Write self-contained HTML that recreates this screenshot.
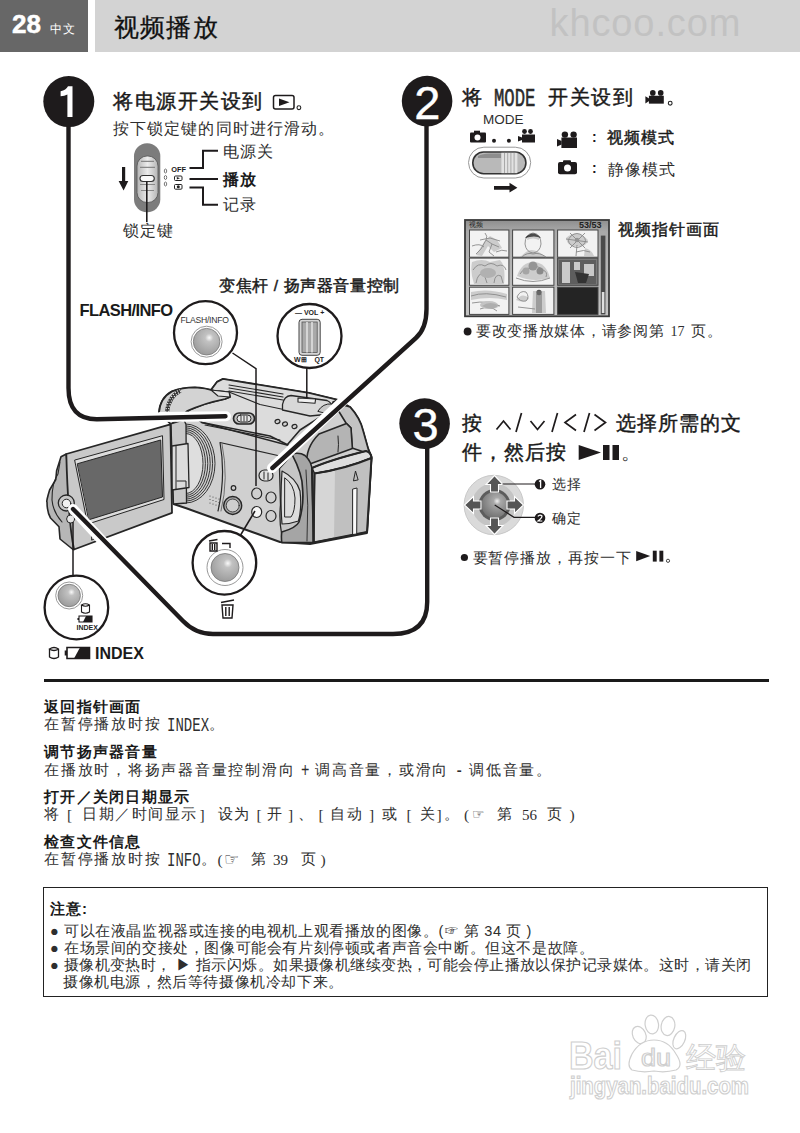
<!DOCTYPE html>
<html><head><meta charset="utf-8">
<style>
html,body{margin:0;padding:0;background:#fff;}
body{width:800px;height:1133px;position:relative;overflow:hidden;font-family:"Liberation Sans",sans-serif;color:#2e2e2e;}
.t{position:absolute;white-space:nowrap;line-height:1;}
.b{font-weight:bold;color:#1a1a1a;}
.m{font-weight:normal;color:#1a1a1a;-webkit-text-stroke:0.45px #1a1a1a;}
.mo{font-family:"Liberation Mono",monospace;letter-spacing:0;font-size:14px;display:inline-block;transform:translateY(1.5px) scaleY(1.38);transform-origin:50% 76%;}
svg{position:absolute;left:0;top:0;}
</style></head><body>
<div style="position:absolute;left:0;top:0;width:88px;height:51.5px;background:#676767"></div>
<div style="position:absolute;left:94.5px;top:0;width:705.5px;height:51.5px;background:#d3d3d3"></div>
<div style="position:absolute;left:44px;top:679px;width:725px;height:3px;background:#1a1a1a"></div>
<div style="position:absolute;left:43px;top:887px;width:724.5px;height:110px;border:1.5px solid #222;box-sizing:border-box"></div>
<svg width="800" height="1133" viewBox="0 0 800 1133">
 <g stroke="#262626" stroke-width="1.6" stroke-linejoin="round" stroke-linecap="round">
  <!-- overall body silhouette -->
  <path fill="#d0d0d0" stroke-width="2" d="M159 413 Q160 398 172 391.5 Q182 387.5 195 387.5 Q205 388 211 390 L217 382 L223 379 L260 385 L309 393 L338 400 L350 407 Q360 418 363 430.6 L368 448.4 L371.5 457 L367 533 L310 544 L280 542 L187 508.5 L173.5 504 L171 424 Z"/>
  <!-- right back part -->
  <path fill="#c3c3c3" d="M333 402 L350 407 Q360 418 363 430.6 L368 448.4 L370 454 L352 448 L351 428 L346 423 Z"/>
  <path fill="#b4b4b4" d="M319 434 L346.5 423.5 L351 428 L352.4 448.4 L307 465 Q305 448 319 434 Z"/>
  <path fill="none" stroke-width="1" d="M338 436 Q339 445 338 452"/>
  <!-- top housing surface -->
  <path fill="#dcdcdc" d="M211 390 L217 382 L223 379 L260 385 L309 393 L338 400 L333 402 Q332 410 325 414 L300 430 L287 445 L202 422.5 L187 411 L205 404 L225 399 L230 397 L229 392 L215 391 Z"/>
  <path fill="none" stroke-width="1.2" d="M229 385 L283 394 M229 388 L283 397 M229 391 L283 400"/>
  <path fill="none" stroke-width="1.2" d="M229 392 L260 404.5 L309.5 415"/>
  <!-- zoom lever bump -->
  <path fill="#d8d8d8" stroke-width="1.3" d="M282.5 404.5 Q284 396 291 395.5 L327 400.5 Q336 405 330 414 L310 416 L282.5 410 Z"/>
  <path fill="#c8c8c8" stroke-width="1" d="M318 411 Q323 403 332 404 Q334 411 329 414 Z"/>
  <path fill="#f0f0f0" stroke-width="1.1" d="M298 398 L315.6 399 L315 403.3 L298 402 Z"/>
  <!-- lens hood -->
  <path fill="#d3d3d3" d="M159 413 Q160 398 172 391.5 Q182 387.5 195 387.5 Q205 388 215 391 L229 392 L230 397 L225 399 Q205 403 187 411 L176 421 L171 424 Z"/>
  <path fill="#e4e4e4" stroke-width="1.1" d="M211 390 L229 392 L230 397 L218 396 Z"/>
  <path fill="none" stroke="#333" stroke-width="4.2" stroke-linecap="butt" d="M167 412 Q168.5 397 180.5 390.5"/>
  <path fill="none" stroke="#eee" stroke-width="1.2" stroke-dasharray="1.2 1.5" stroke-linecap="butt" d="M165.8 412 Q167.3 396.5 179.8 389.6"/>
  <path fill="none" stroke="#eee" stroke-width="1.2" stroke-dasharray="1.2 1.5" stroke-linecap="butt" d="M168.2 412 Q169.7 397.5 181.2 391.4"/>
  <!-- side panel top edge -->
  <path fill="none" stroke-width="1.6" d="M202 422.5 L270 436 L288 445"/>
  <path fill="none" stroke-width="1.2" d="M205 425 L280 440"/>
  <!-- speaker arcs -->
  <path fill="#dedede" stroke="none" d="M186 433.5 A17 30 0 0 1 186 493.5 Z"/>
  <g fill="none" stroke="#2e2e2e" stroke-width="0.95">
   <path d="M186 424.0 A29.0 39.5 0 0 1 186 503.0"/>
   <path d="M186 425.9 A26.6 37.6 0 0 1 186 501.1"/>
   <path d="M186 427.8 A24.2 35.7 0 0 1 186 499.2"/>
   <path d="M186 429.7 A21.8 33.8 0 0 1 186 497.3"/>
   <path d="M186 431.6 A19.4 31.9 0 0 1 186 495.4"/>
   <path d="M186 433.5 A17.0 30.0 0 0 1 186 493.5"/>
  </g>
  <!-- recessed panel -->
  <path fill="none" stroke-width="1.2" d="M218 511 Q226 476 220 442.5 L280 456"/>
  <path fill="none" stroke="#555" stroke-width="0.8" d="M222 444 Q229 478 221 511"/>
  <path fill="#c8c8c8" stroke-width="1.3" d="M171 424 L184 420 L186 424.5 L186.5 503 L173.5 504 Z"/>
  <!-- hinge -->
  <path fill="#dcdcdc" stroke-width="1.3" d="M172 446 L188 443.5 L189 487.5 L172 490 Z"/>
  <path fill="none" stroke-width="1" d="M176 446 V489 M177 481 H186 V487"/>
  <!-- speaker dots -->
  <g fill="#444" stroke="none">
   <circle cx="210" cy="496" r=".6"/><circle cx="213" cy="497" r=".6"/><circle cx="216" cy="498" r=".6"/><circle cx="219" cy="499" r=".6"/>
   <circle cx="210" cy="499.5" r=".6"/><circle cx="213" cy="500.5" r=".6"/><circle cx="216" cy="501.5" r=".6"/><circle cx="219" cy="502.5" r=".6"/>
   <circle cx="210" cy="503" r=".6"/><circle cx="213" cy="504" r=".6"/><circle cx="216" cy="505" r=".6"/><circle cx="219" cy="506" r=".6"/>
  </g>
  <!-- strap / grip -->
  <path fill="#c6c6c6" stroke-width="1.3" d="M279.5 468.5 Q286 462 291.8 453.8 Q300 462 302 472 L303 505 Q302 522 298.5 526 Q290 530 281.5 533 Q279 520 280.5 505 Z"/>
  <path fill="#dcdcdc" stroke-width="1.2" d="M282 471 Q296 478 300 491 Q302 508 298.5 521 Q290 524 282 524 Q280 500 282 471 Z"/>
  <path fill="none" stroke-width="1" d="M285 478 Q294 484 295 498 Q295 512 291 517 L285 517 Z"/>
  <path fill="#a5a5a5" stroke-width="1.6" d="M291.8 453.8 Q300 452 305 455.5 Q312 462 312 470.6 L313.6 542.6 L281.8 542.6 Q281 536 281.8 532 Q296 528 299 522 Q304 505 302.7 490 Q303 475 291.8 453.8 Z"/>
  <path fill="none" stroke-width="0.9" d="M306 470 Q309 505 307 541"/>
  <!-- battery -->
  <path fill="#dedede" d="M312 468 Q330 460 366 451 Q371 452 371.5 458 Q345 469 314.5 473.5 Z"/>
  <path fill="#d6d6d6" d="M314.5 473.5 Q345 469 371.5 458 L367 532 L313.6 542.6 Z"/>
  <path fill="#c0c0c0" stroke="none" d="M335 469 Q352 465 370.5 459 L366.5 531 L334 538 Z"/>
  <path fill="none" stroke-width="2" d="M312 468 Q330 460 366 451 Q371 452 371.5 458 L367 532 L313.6 542.6 L314.5 473.5 Q345 469 371.5 458"/>
  <path fill="none" stroke-width="2" d="M312 468 L313.6 542.6"/>
  <path fill="#fafafa" stroke-width="1" d="M353 489 L357 488 L356.7 534 L353 534.5 Z"/>
  <path fill="none" stroke-width="1" d="M353.5 480.5 L355.5 471 L358 479.5 Z"/>
  <!-- buttons -->
  <g fill="#d0d0d0" stroke-width="1.2">
   <ellipse cx="256.7" cy="493.5" rx="5" ry="5.5"/>
   <ellipse cx="271" cy="497.5" rx="5" ry="5.5"/>
   <ellipse cx="256.7" cy="512" rx="5" ry="5.5" fill="#f6f6f6"/>
   <ellipse cx="271" cy="516" rx="5" ry="5.5"/>
   <rect x="259" y="470" width="14" height="11" rx="5.5" fill="#e0e0e0"/>
   <path fill="none" stroke-width="1" d="M264 472 V479 M268 473 V480"/>
   <ellipse cx="277.5" cy="421.5" rx="2.5" ry="2" transform="rotate(-20 277.5 421.5)"/>
   <ellipse cx="285" cy="424" rx="2.5" ry="2" transform="rotate(-20 285 424)"/>
   <ellipse cx="294.5" cy="426.5" rx="2.5" ry="2" transform="rotate(-20 294.5 426.5)"/>
   <circle cx="232.7" cy="505.5" r="9" fill="#a8a8a8" stroke-width="1.4"/>
   <circle cx="232.7" cy="505.5" r="6.5" fill="#cfcfcf" stroke-width="0.8"/>
   <circle cx="233.5" cy="488" r="2.3"/>
   <rect x="233.5" y="413" width="21" height="11" rx="5.5" fill="#bdbdbd" stroke-width="1.7"/>
   <rect x="237" y="415" width="14" height="7" rx="3.5" fill="#e8e8e8" stroke-width="1"/>
   <path fill="none" stroke-width="0.9" d="M241 416 V421 M244 416 V421 M247 416 V421"/>
  </g>
  <!-- LCD panel -->
  <path fill="#b6b6b6" d="M66.3 454 L61 456.8 L56.6 470.8 L55.8 479.5 L49.6 490 Q46 502 47 502 Q47 512 50.5 518 L59 526.8 L60 539 L73 549.5 L74 549.5 Z"/>
  <path fill="none" stroke-width="1.1" d="M60 462 L58 474 Q52 482 52 500 Q53 512 62 522"/>
  <path fill="#c9c9c9" stroke-width="1.8" d="M66.3 454 L170.4 424.4 L172 512.8 L74 549.5 Q68 520 66.3 454 Z"/>
  <path fill="#dcdcdc" stroke-width="1" d="M75 460 L162.5 435.7 L164 499.5 L88 524 Z"/>
  <path fill="#686868" stroke-width="1" d="M77.6 463.7 L160.7 440 L162.5 497 L89 519.7 Z"/>
  <path fill="none" stroke-width="1" d="M92 534 L96 532 L96 538 L92 540 Z"/>
  <circle cx="66.3" cy="503" r="8" fill="#c8c8c8" stroke-width="1.3"/>
  <circle cx="66.5" cy="503.5" r="4.3" fill="#f2f2f2" stroke-width="1"/>
  <circle cx="70.6" cy="519" r="4" fill="#e6e6e6" stroke-width="1"/>
 </g>
  <!-- step lines -->
  <defs>
   <radialGradient id="sph" cx="0.6" cy="0.35" r="0.7">
    <stop offset="0" stop-color="#fafafa"/><stop offset="0.22" stop-color="#c2c2c2"/><stop offset="1" stop-color="#999"/>
   </radialGradient>
  </defs>
  <!-- callout connector lines -->
  <g fill="none" stroke="#1e1b1c" stroke-width="1.5">
    <path d="M232.5 353 L256 368.7 V486"/>
    <path d="M306.8 367 V398"/>
    <path d="M240.6 535 L255 511"/>
    <path d="M73 576 V522"/>
  </g>
  <g fill="none" stroke="#fff" stroke-width="10" stroke-linecap="round">
    <path d="M160 417 L226 416.3"/>
    <path d="M360 385 L272 468"/>
    <path d="M120 560 L73 509"/>
  </g>
  <g fill="none" stroke="#1e1b1c" stroke-width="4.4" stroke-linecap="round">
    <path d="M68.5 102 V388 Q68.5 419.5 97 419.3 L225.5 416.3"/>
    <path d="M426.5 101 V309 Q426.5 328.6 415.9 338 L272.4 468"/>
    <path d="M427.2 423 V602 Q427.2 634 393 634 H213 Q195.6 634 183 621 L73 509"/>
  </g>
  <!-- callout circles -->
  <g stroke="#1e1b1c" stroke-width="2.3" fill="#fff">
    <circle cx="205.5" cy="332.7" r="31.5"/>
    <circle cx="309.5" cy="336" r="32"/>
    <circle cx="224.4" cy="562.8" r="31.8"/>
    <circle cx="76.4" cy="607.5" r="31.8"/>
  </g>
  <g stroke="#999" stroke-width="1" fill="#fff">
    <circle cx="206.6" cy="341.7" r="15.5"/>
    <circle cx="225" cy="567.5" r="18"/>
    <circle cx="69.2" cy="595.5" r="13.5"/>
  </g>
  <g stroke="#777" stroke-width="0.8" fill="url(#sph)">
    <circle cx="206.6" cy="341.7" r="13.3"/>
    <circle cx="225" cy="567.5" r="14"/>
    <circle cx="69.2" cy="595.5" r="11.2"/>
  </g>
  <!-- VOL slider -->
  <rect x="299" y="319.3" width="21.2" height="36" rx="3" fill="#d6d6d6" stroke="#444" stroke-width="1"/>
  <rect x="302" y="322" width="15.2" height="30.5" fill="#a9a9a9" stroke="#555" stroke-width="0.8"/>
  <path d="M307 322 V352.5 M312 322 V352.5" stroke="#e0e0e0" stroke-width="1.6"/>
  <!-- trash icons -->
  <g fill="none" stroke="#1e1b1c" stroke-width="1.4">
    <path d="M209 541 L217.5 539.5 M210 543 H217 V551 H210 Z M212.3 544 V550 M214.7 544 V550"/>
    <path d="M222 543.5 H230 V548"/>
    <path d="M221 602.5 L234 600 M222 605 H233 L232 618 H223 Z M225.8 607 V616 M229.2 607 V616"/>
  </g>
  <!-- INDEX icons -->
  <g fill="none" stroke="#1e1b1c" stroke-width="1.1">
    <path d="M81.5 605 V612 Q85.5 614.5 89.5 612 V605 Q85.5 602.5 81.5 605 Q85.5 607.5 89.5 605"/>
    <path d="M79 616 H92 V622 H79 Z M78 618 V620"/>
    <path d="M49.5 649 V657 Q54 660 58.5 657 V649 Q54 646 49.5 649 Q54 652 58.5 649" stroke-width="1.3"/>
    <path d="M67 647.5 H89.5 V658.5 H67 Z M65.5 650.5 V655.5" stroke-width="1.6"/>
  </g>
  <path d="M86 616 H92 V622 H83 Z" fill="#1e1b1c"/>
  <path d="M80 647.5 H89.5 V658.5 H74 Z" fill="#1e1b1c"/>
  <!-- circles -->
  <g fill="#1e1b1c">
    <circle cx="68.8" cy="101.6" r="25.5"/>
    <circle cx="427.1" cy="101.1" r="25.3"/>
    <circle cx="424.6" cy="423.6" r="25.3"/>
  </g>
  <path d="M60.6 91.3 Q66 90 68 86.2 H72.5 V116.9 H67.4 V94.5 Q64.5 96.3 60.6 96.3 Z" fill="#fff"/>
  <defs>
   <linearGradient id="swg" x1="0" y1="0" x2="1" y2="0">
    <stop offset="0" stop-color="#b5b5b5"/><stop offset="0.5" stop-color="#ececec"/><stop offset="1" stop-color="#b5b5b5"/>
   </linearGradient>
   <radialGradient id="joy" cx="0.6" cy="0.35" r="0.7">
    <stop offset="0" stop-color="#f0f0f0"/><stop offset="0.2" stop-color="#a8a8a8"/><stop offset="1" stop-color="#6e6e6e"/>
   </radialGradient>
  </defs>
  <!-- step1 play icon box -->
  <rect x="273.5" y="95.5" width="20.5" height="13.5" rx="2" fill="none" stroke="#1e1b1c" stroke-width="1.5"/>
  <path d="M279 98.5 L289.5 102.3 L279 106 Z" fill="#1e1b1c"/>
  <!-- step1 switch -->
  <rect x="134" y="143.3" width="26.3" height="69" rx="13" fill="#7c7c7c"/>
  <rect x="137" y="156" width="21" height="46.5" rx="10" fill="url(#swg)" stroke="#555" stroke-width="0.8"/>
  <g stroke="#888" stroke-width="1.2" fill="none">
   <path d="M141 161.3 H154 M140 167.3 H155 M140 184.5 H155 M141 190.5 H154"/>
  </g>
  <rect x="140" y="175.5" width="14.3" height="6" rx="3" fill="#fafafa" stroke="#333" stroke-width="1.1"/>
  <path d="M146.8 181.5 V222" stroke="#1e1b1c" stroke-width="1.6"/>
  <path d="M122 167 H125.2 V181 H128.3 L123.6 190.5 L118.6 181 H122 Z" fill="#1e1b1c"/>
  <g fill="none" stroke="#555" stroke-width="0.8">
   <ellipse cx="165.5" cy="171" rx="1.2" ry="2"/><ellipse cx="165.5" cy="177.5" rx="1.2" ry="2"/><ellipse cx="165.5" cy="184" rx="1.2" ry="2"/>
  </g>
  <rect x="174.5" y="176" width="7.5" height="4.5" rx="1" fill="none" stroke="#222" stroke-width="1"/>
  <path d="M176.8 177 L180 178.3 L176.8 179.6 Z" fill="#222"/>
  <rect x="174.5" y="184.5" width="7.5" height="4.7" rx="1" fill="none" stroke="#222" stroke-width="1"/>
  <circle cx="178.3" cy="186.8" r="1.5" fill="#222"/>
  <g fill="none" stroke="#1e1b1c" stroke-width="2">
   <path d="M189.5 168 H203 V150.8 H218"/>
   <path d="M189.5 179 H218"/>
   <path d="M189.5 187.5 H203 V204.8 H218"/>
  </g>
  <!-- step2 MODE icons -->
  <g fill="#1e1b1c">
   <rect x="470" y="132.5" width="16" height="10" rx="1"/>
   <rect x="474" y="130.7" width="6" height="3"/>
   <circle cx="494" cy="140.8" r="2"/><circle cx="508.9" cy="140.8" r="2"/>
   <circle cx="524.5" cy="131.5" r="2.4"/><circle cx="530.5" cy="131.5" r="2.4"/>
   <rect x="522" y="134.5" width="13" height="8"/>
   <path d="M518 136 L522 137.5 V140 L518 141.5 Z"/>
  </g>
  <circle cx="477.5" cy="137.6" r="3" fill="#fff"/>
  <rect x="468.5" y="147.2" width="62.2" height="30.8" rx="15.4" fill="#fff" stroke="#999" stroke-width="1"/>
  <rect x="472.8" y="152" width="53.1" height="21.7" rx="10.8" fill="#b9b9b9" stroke="#333" stroke-width="1.6"/>
  <path d="M478 156 Q482 153.5 490 153.5 H501 V158 H478 Z" fill="#8e8e8e"/>
  <rect x="501.4" y="152.8" width="16" height="20.4" fill="#e2e2e2"/>
  <path d="M504.5 153 V173 M507.7 153 V173 M510.9 153 V173 M514.1 153 V173" stroke="#999" stroke-width="0.8"/>
  <path d="M494 186 H509.5 V182.8 L517.4 187.8 L509.5 192.4 V189.7 H494 Z" fill="#1e1b1c"/>
  <g fill="#1e1b1c">
   <circle cx="652.8" cy="92.9" r="2.8"/><circle cx="660.7" cy="92.9" r="2.8"/>
   <rect x="648.9" y="95.75" width="14.9" height="7.9"/>
   <path d="M645.4 96.2 L649.5 98.8 V100.8 L645.4 103.4 Z"/>
  </g>
  <circle cx="670.2" cy="103.2" r="1.9" fill="none" stroke="#222" stroke-width="1.1"/>
  <!-- movie / camera icons right -->
  <g fill="#1e1b1c">
   <circle cx="564.9" cy="134.6" r="3.2"/><circle cx="573.6" cy="134.6" r="3.2"/>
   <rect x="561.4" y="137.5" width="15.6" height="10.5"/>
   <path d="M557 139 L561.6 141 V144.5 L557 146.5 Z"/>
   <rect x="558" y="162" width="19" height="12.3" rx="2"/>
   <rect x="563" y="160.2" width="8" height="3" rx="1"/>
  </g>
  <circle cx="567.5" cy="168.1" r="3.5" fill="#fff"/>
  <!-- thumbnails panel -->
  <defs>
   <linearGradient id="thg" x1="0" y1="0" x2="0" y2="1">
    <stop offset="0" stop-color="#8e8e8e"/><stop offset="0.12" stop-color="#a9a9a9"/><stop offset="1" stop-color="#c4c4c4"/>
   </linearGradient>
  </defs>
  <rect x="465" y="220" width="144" height="96.3" fill="url(#thg)" stroke="#3a3a3a" stroke-width="1.8"/>
  <g stroke="#444" stroke-width="1" fill="#f2f2f2">
   <rect x="469.5" y="230" width="39.4" height="27.2"/>
   <rect x="512.6" y="230" width="41.3" height="27.2"/>
   <rect x="557.6" y="230" width="40.4" height="27.2"/>
   <rect x="469.5" y="258.1" width="39.4" height="27.2"/>
   <rect x="512.6" y="258.1" width="41.3" height="27.2"/>
   <rect x="557.6" y="258.1" width="40.4" height="27.2" fill="#7a7a7a"/>
   <rect x="469.5" y="287.2" width="39.4" height="27.2"/>
   <rect x="512.6" y="287.2" width="41.3" height="27.2"/>
   <rect x="557.6" y="287.2" width="40.4" height="27.2" fill="#242424"/>
  </g>
  <g fill="none" stroke="#8a8a8a" stroke-width="0.9">
   <path d="M485 233 Q488 236 486 240 L492 244 L499 247 M486 240 L481 249 L476 254 M492 244 L489 252 L494 256 M480 240 L490 238 L500 241"/>
   <path d="M472 246 Q480 243 484 247 M496 252 Q502 249 507 251"/>
   <path d="M525 244 Q525 234 533 233 Q541 234 541 244 Q540 252 533 253 Q526 252 525 244 Z M522 257 Q527 252 533 254 Q539 252 546 257"/>
   <path d="M571 236 Q577 231 583 236 Q588 241 583 245 Q577 250 571 245 Q566 241 571 236 Z M577 245 L576 256 M576 252 Q584 249 590 252"/>
   <path d="M566 239 L588 242 M570 233 L585 248 M585 233 L570 248"/>
   <path d="M473 270 Q478 262 485 266 Q491 261 497 266 Q504 263 506 270 M476 283 Q478 272 484 274 L487 283 M494 283 Q495 273 501 276 L503 283"/>
   <path d="M516 278 Q533 285 550 278 M520 274 Q525 266 531 269 Q537 264 543 270 Q548 272 546 277"/>
   <path d="M471 296 Q485 291 506 297 M472 303 Q488 300 500 306 M480 309 Q490 305 497 311"/>
   <path d="M517 297 Q520 290 526 292 Q530 297 526 301 Q520 302 517 297 Z M518 307 L535 309"/>
  </g>
  <g fill="#a0a0a0" stroke="none">
   <path d="M525 238 Q533 229 541 238 Q535 235 525 238 Z" fill="#2a2a2a"/>
   <circle cx="533" cy="266" r="4.5" fill="#9c9c9c"/><circle cx="526" cy="271" r="3.5" fill="#b5b5b5"/><circle cx="540" cy="271" r="3.5" fill="#8c8c8c"/>
   <ellipse cx="488" cy="273" rx="8" ry="5" fill="#c8c8c8"/>
   <circle cx="577" cy="240" r="2.3" fill="#999"/>
   <path d="M559 260 H596 V284 H559 Z" fill="#5e5e5e"/>
   <path d="M562 262 H570 V283 H562 Z M574 262 H580 V270 H574 Z M584 264 H594 V276 H584 Z" fill="#c9c9c9"/>
   <path d="M575 272 L578 283 H586 L589 274 Z" fill="#333"/>
   <ellipse cx="489" cy="305" rx="9" ry="4" fill="#c4c4c4"/>
   <rect x="536" y="294" width="6" height="19" fill="#a8a8a8"/>
   <circle cx="539" cy="292.5" r="2.7" fill="#555"/>
  </g>
  <g fill="#888" opacity="0.35" stroke="none">
   <path d="M476 255 L484 242 L490 236 L497 240 L502 248 L494 252 L488 246 L482 256 Z"/>
   <path d="M526 252 Q533 246 546 257 H520 Z M528 236 Q533 231 539 236 L539 240 Q533 237 527 240 Z"/>
   <path d="M566 238 Q577 228 588 240 Q586 248 577 246 Q568 248 566 238 Z M585 248 Q592 250 594 256 L584 256 Z"/>
   <path d="M472 262 Q482 258 490 262 L500 260 Q506 266 504 284 H474 Q470 272 472 262 Z"/>
   <path d="M517 276 Q522 262 533 262 Q546 262 550 278 Q533 283 517 276 Z"/>
   <path d="M471 292 Q488 288 507 294 L507 300 Q490 296 471 300 Z M482 306 Q490 300 500 306 Q492 312 482 306 Z"/>
   <path d="M533 291 L545 291 L546 313 L532 313 Z M516 300 Q522 292 529 298 Q526 304 516 300 Z"/>
  </g>
  <rect x="600.8" y="235.6" width="4.6" height="78.8" fill="#4a4a4a"/>
  <rect x="601.8" y="292" width="2.6" height="21" fill="#e0e0e0"/>
  <!-- joystick -->
  <circle cx="493.8" cy="505" r="29.7" fill="#dadada" stroke="#c8c8c8" stroke-width="1"/>
  <circle cx="493.8" cy="505" r="22" fill="#c4c4c4"/>
  <circle cx="494.5" cy="505" r="16" fill="#5c5c5c"/>
  <circle cx="494.5" cy="505" r="13" fill="url(#joy)"/>
  <g fill="#555" stroke="#fff" stroke-width="1.1">
   <path d="M494.5 475.5 L503 484.5 H498.5 V492 H490.5 V484.5 H486 Z"/>
   <path d="M494.5 534.5 L503 525.5 H498.5 V518 H490.5 V525.5 H486 Z"/>
   <path d="M464.5 505 L473.5 496.5 V501 H481 V509 H473.5 V513.5 Z"/>
   <path d="M523.5 505 L514.5 496.5 V501 H507 V509 H514.5 V513.5 Z"/>
  </g>
  <path d="M502.5 484 H535" stroke="#1e1b1c" stroke-width="1.2" fill="none"/>
  <path d="M494.7 505 L514 517.3 H535" stroke="#1e1b1c" stroke-width="1.2" fill="none"/>
  <circle cx="540" cy="484.3" r="5.3" fill="#1e1b1c"/>
  <circle cx="540" cy="518" r="5.3" fill="#1e1b1c"/>
  <path d="M539 481.5 L540.6 480.5 V488" stroke="#fff" stroke-width="1.3" fill="none"/>
  <path d="M537.8 516.3 Q540 514 542 516 Q542 518 538 521 H542.3" stroke="#fff" stroke-width="1.2" fill="none"/>
  <!-- step3 arrows & play/pause glyphs -->
  <g fill="none" stroke="#1e1b1c" stroke-width="1.7" stroke-linejoin="miter">
   <path d="M496.5 429.5 L503.5 421 L510.5 429.5"/>
   <path d="M521.5 413 L516 432"/>
   <path d="M530.5 421 L537.5 429.5 L544.5 421"/>
   <path d="M557.5 413 L552 432"/>
   <path d="M576 414.5 L565 422.5 L576 430.5"/>
   <path d="M589.5 413 L584 432"/>
   <path d="M594.5 414.5 L605.5 422.5 L594.5 430.5"/>
  </g>
  <path d="M578.7 445 L601 452.5 L578.7 460 Z" fill="#1e1b1c"/>
  <rect x="603" y="445" width="6.5" height="15" fill="#1e1b1c"/>
  <rect x="612.5" y="445" width="6.5" height="15" fill="#1e1b1c"/>
  <path d="M636.2 551.1 L650.2 556.1 L636.2 561.2 Z" fill="#1e1b1c"/>
  <rect x="652.8" y="550.7" width="3.9" height="10.9" fill="#1e1b1c"/>
  <rect x="659.4" y="550.7" width="3.9" height="10.9" fill="#1e1b1c"/>
  <circle cx="668" cy="560.8" r="1.6" fill="none" stroke="#333" stroke-width="0.9"/>
  <!-- baidu watermark -->
  <g fill="#fff" stroke="#cfcfcf" stroke-width="1.2" font-family="Liberation Sans, sans-serif" font-weight="bold">
   <text x="569" y="1069" font-size="39" textLength="53" lengthAdjust="spacingAndGlyphs">Bai</text>
   <ellipse cx="639.2" cy="1035" rx="6.5" ry="9" transform="rotate(-25 639.2 1035)"/>
   <ellipse cx="651.8" cy="1024.5" rx="6.7" ry="9.5" transform="rotate(-8 651.8 1024.5)"/>
   <ellipse cx="668" cy="1026" rx="6.8" ry="9.6" transform="rotate(10 668 1026)"/>
   <ellipse cx="679.3" cy="1039.7" rx="5.5" ry="9.7" transform="rotate(25 679.3 1039.7)"/>
   <path d="M654 1040 Q668 1040 676 1054 Q684 1066 676 1070 Q665 1073 654 1071 Q642 1073 632 1070 Q626 1066 632 1054 Q640 1040 654 1040 Z"/>
   <text x="641" y="1066" font-size="23" font-weight="normal" textLength="30" lengthAdjust="spacingAndGlyphs">du</text>
   <text x="686" y="1068" font-size="30" font-weight="normal" stroke-width="0.9" textLength="60" lengthAdjust="spacingAndGlyphs">经验</text>
   <text x="570" y="1094" font-size="24" textLength="179" lengthAdjust="spacingAndGlyphs">jingyan.baidu.com</text>
  </g>
  <circle cx="467.6" cy="331.5" r="3.9" fill="#1e1b1c"/>
  <circle cx="464.4" cy="557.5" r="3.6" fill="#1e1b1c"/>
  <circle cx="298.9" cy="107.7" r="1.9" fill="none" stroke="#222" stroke-width="1.1"/>
</svg>
<!-- header -->
<div class="t b" style="left:12px;top:11px;font-size:26px;color:#fff;-webkit-text-stroke:0.5px #fff">28</div>
<div class="t" style="left:50px;top:23px;font-size:12px;color:#fff;letter-spacing:1px">中文</div>
<div class="t" style="left:114px;top:15px;font-size:25px;color:#111;letter-spacing:1.2px;-webkit-text-stroke:0.3px #111">视频播放</div>
<div class="t" style="left:549.5px;top:4px;font-size:38px;letter-spacing:0.9px;color:#c2c2c2">khcoo.com</div>

<div class="t" style="left:414.2px;top:78.5px;font-size:47px;color:#fff;-webkit-text-stroke:0.4px #fff">2</div>
<div class="t" style="left:412.6px;top:401.3px;font-size:47px;color:#fff;-webkit-text-stroke:0.4px #fff">3</div>

<!-- step 1 texts -->
<div class="t m" style="left:113px;top:90.5px;font-size:20px;letter-spacing:1.5px">将电源开关设到</div>
<div class="t" style="left:113px;top:121px;font-size:15.5px;letter-spacing:1.1px">按下锁定键的同时进行滑动。</div>
<div class="t" style="left:222.5px;top:143.5px;font-size:15.5px;letter-spacing:1.4px">电源关</div>
<div class="t b" style="left:223px;top:171.5px;font-size:15.5px;letter-spacing:1.4px">播放</div>
<div class="t" style="left:222.5px;top:196.5px;font-size:15.5px;letter-spacing:1.4px">记录</div>
<div class="t" style="left:123px;top:223px;font-size:15.5px;letter-spacing:1px">锁定键</div>
<div class="t b" style="left:171.3px;top:165.5px;font-size:7.4px;">OFF</div>

<!-- step 2 texts -->
<div class="t m" style="left:462px;top:87px;font-size:20px;">将</div>
<div class="t" style="left:493.5px;top:87px;font-size:25px;font-family:'Liberation Mono',monospace;transform:scaleX(0.69);transform-origin:left top;-webkit-text-stroke:0.5px #1a1a1a">MODE</div>
<div class="t m" style="left:548px;top:87px;font-size:20px;letter-spacing:1.5px">开关设到</div>
<div class="t" style="left:483px;top:113px;font-size:13.5px;">MODE</div>
<div class="t b" style="left:592px;top:130px;font-size:14px;">:</div>
<div class="t m" style="left:607px;top:130px;font-size:15.5px;letter-spacing:1px">视频模式</div>
<div class="t b" style="left:592px;top:161px;font-size:14px;">:</div>
<div class="t" style="left:608px;top:162px;font-size:15.5px;letter-spacing:1px">静像模式</div>
<div class="t m" style="left:618px;top:222px;font-size:15.5px;letter-spacing:1px">视频指针画面</div>
<div class="t" style="left:476px;top:324px;font-size:14.5px;letter-spacing:0.7px">要改变播放媒体，请参阅第</div>
<div class="t" style="left:670.5px;top:325px;font-size:14px;font-family:'Liberation Serif',serif">17</div>
<div class="t" style="left:691px;top:324px;font-size:14.5px;letter-spacing:0.7px">页。</div>
<div class="t" style="left:469px;top:221px;font-size:7px;color:#222">视频</div>
<div class="t b" style="left:579px;top:220.5px;font-size:9px;color:#222">53/53</div>

<!-- step 3 texts -->
<div class="t m" style="left:462px;top:413px;font-size:20px;">按</div>
<div class="t m" style="left:616px;top:413px;font-size:20px;letter-spacing:1px">选择所需的文</div>
<div class="t m" style="left:462px;top:442px;font-size:20px;letter-spacing:1px">件，然后按</div>
<div class="t" style="left:621px;top:442px;font-size:20px;">。</div>
<div class="t" style="left:552px;top:477px;font-size:14px;letter-spacing:0.5px">选择</div>
<div class="t" style="left:552px;top:511px;font-size:14px;letter-spacing:0.5px">确定</div>
<div class="t" style="left:472.5px;top:550.5px;font-size:14.5px;letter-spacing:0.9px">要暂停播放，再按一下</div>

<!-- camera labels -->
<div class="t m" style="left:219px;top:277.5px;font-size:15.5px;letter-spacing:0.6px">变焦杆 / 扬声器音量控制</div>
<div class="t b" style="left:79.5px;top:301.5px;font-size:16.5px;letter-spacing:-0.6px">FLASH/INFO</div>
<div class="t b" style="left:95px;top:646px;font-size:16px;">INDEX</div>
<div class="t" style="left:180.5px;top:315.5px;font-size:8.6px;color:#333;letter-spacing:-0.25px">FLASH/INFO</div>
<div class="t b" style="left:295px;top:309px;font-size:7px;color:#222">— VOL +</div>
<div class="t b" style="left:294px;top:355.5px;font-size:7px;color:#222">W⊞&nbsp;&nbsp;&nbsp;&nbsp;QT</div>
<div class="t b" style="left:76.5px;top:624px;font-size:7px;color:#222">INDEX</div>

<!-- bottom sections -->
<div class="t b" style="left:44px;top:699px;font-size:15px;letter-spacing:1.25px">返回指针画面</div>
<div class="t" style="left:44px;top:717px;font-size:14.5px;letter-spacing:1.75px">在暂停播放时按 <span class="mo">INDEX</span>。</div>
<div class="t b" style="left:44px;top:744px;font-size:15px;letter-spacing:1.25px">调节扬声器音量</div>
<div class="t" style="left:44px;top:763px;font-size:14.5px;letter-spacing:1.75px">在播放时，将扬声器音量控制滑向 <span class="mo">+</span> 调高音量，或滑向 <span class="mo">-</span> 调低音量。</div>
<div class="t b" style="left:44px;top:789px;font-size:15px;letter-spacing:1.25px">打开／关闭日期显示</div>
<div class="t" style="left:43.5px;top:807px;font-size:14.5px;letter-spacing:1.5px">将</div>
<div class="t" style="left:67px;top:806.5px;font-size:15.5px;font-family:'Liberation Serif',serif;color:#333">[</div>
<div class="t" style="left:82px;top:807px;font-size:14.5px;letter-spacing:1.5px">日期／时间显示</div>
<div class="t" style="left:199.5px;top:806.5px;font-size:15.5px;font-family:'Liberation Serif',serif;color:#333">]</div>
<div class="t" style="left:217.5px;top:807px;font-size:14.5px;letter-spacing:1.5px">设为</div>
<div class="t" style="left:256.5px;top:806.5px;font-size:15.5px;font-family:'Liberation Serif',serif;color:#333">[</div>
<div class="t" style="left:266.5px;top:807px;font-size:14.5px;letter-spacing:1.5px">开</div>
<div class="t" style="left:288px;top:806.5px;font-size:15.5px;font-family:'Liberation Serif',serif;color:#333">]</div>
<div class="t" style="left:298px;top:807px;font-size:14.5px;letter-spacing:1.5px">、</div>
<div class="t" style="left:318.5px;top:806.5px;font-size:15.5px;font-family:'Liberation Serif',serif;color:#333">[</div>
<div class="t" style="left:330px;top:807px;font-size:14.5px;letter-spacing:1.5px">自动</div>
<div class="t" style="left:369px;top:806.5px;font-size:15.5px;font-family:'Liberation Serif',serif;color:#333">]</div>
<div class="t" style="left:382px;top:807px;font-size:14.5px;letter-spacing:1.5px">或</div>
<div class="t" style="left:406.5px;top:806.5px;font-size:15.5px;font-family:'Liberation Serif',serif;color:#333">[</div>
<div class="t" style="left:419.5px;top:807px;font-size:14.5px;letter-spacing:1.5px">关</div>
<div class="t" style="left:436.5px;top:806.5px;font-size:15.5px;font-family:'Liberation Serif',serif;color:#333">]</div>
<div class="t" style="left:444px;top:807px;font-size:14.5px;letter-spacing:1.5px">。</div>
<div class="t" style="left:464px;top:806.5px;font-size:15.5px;font-family:'Liberation Serif',serif;color:#333">(</div>
<div class="t" style="left:472px;top:807px;font-size:14px">☞</div>
<div class="t" style="left:497px;top:807px;font-size:14.5px;letter-spacing:1.5px">第</div>
<div class="t" style="left:522px;top:807.5px;font-size:15px;font-family:'Liberation Serif',serif">56</div>
<div class="t" style="left:547px;top:807px;font-size:14.5px;letter-spacing:1.5px">页</div>
<div class="t" style="left:569.5px;top:806.5px;font-size:15.5px;font-family:'Liberation Serif',serif;color:#333">)</div>
<div class="t b" style="left:44px;top:834px;font-size:15px;letter-spacing:1.25px">检查文件信息</div>
<div class="t" style="left:44px;top:852px;font-size:14.5px;letter-spacing:1.75px">在暂停播放时按 <span class="mo">INFO</span>。</div>
<div class="t" style="left:217.5px;top:851.5px;font-size:15.5px;font-family:'Liberation Serif',serif;color:#333">(</div>
<div class="t" style="left:224px;top:851px;font-size:17px">☞</div>
<div class="t" style="left:250.5px;top:852px;font-size:14.5px">第</div>
<div class="t" style="left:273px;top:852.5px;font-size:15px;font-family:'Liberation Serif',serif">39</div>
<div class="t" style="left:300.5px;top:852px;font-size:14.5px">页</div>
<div class="t" style="left:320.5px;top:851.5px;font-size:15.5px;font-family:'Liberation Serif',serif;color:#333">)</div>

<!-- note box -->
<div class="t b" style="left:50px;top:901px;font-size:15px;letter-spacing:1px">注意:</div>
<div class="t" style="left:50px;top:924px;font-size:14.5px;letter-spacing:0.6px">● 可以在液晶监视器或连接的电视机上观看播放的图像。(☞ 第 34 页 )</div>
<div class="t" style="left:50px;top:941px;font-size:14.5px;letter-spacing:0.6px">● 在场景间的交接处，图像可能会有片刻停顿或者声音会中断。但这不是故障。</div>
<div class="t" style="left:50px;top:958px;font-size:14.5px;letter-spacing:0.43px">● 摄像机变热时， ▶ 指示闪烁。如果摄像机继续变热，可能会停止播放以保护记录媒体。这时，请关闭</div>
<div class="t" style="left:63px;top:975px;font-size:14.5px;letter-spacing:0.6px">摄像机电源，然后等待摄像机冷却下来。</div>

</body></html>
